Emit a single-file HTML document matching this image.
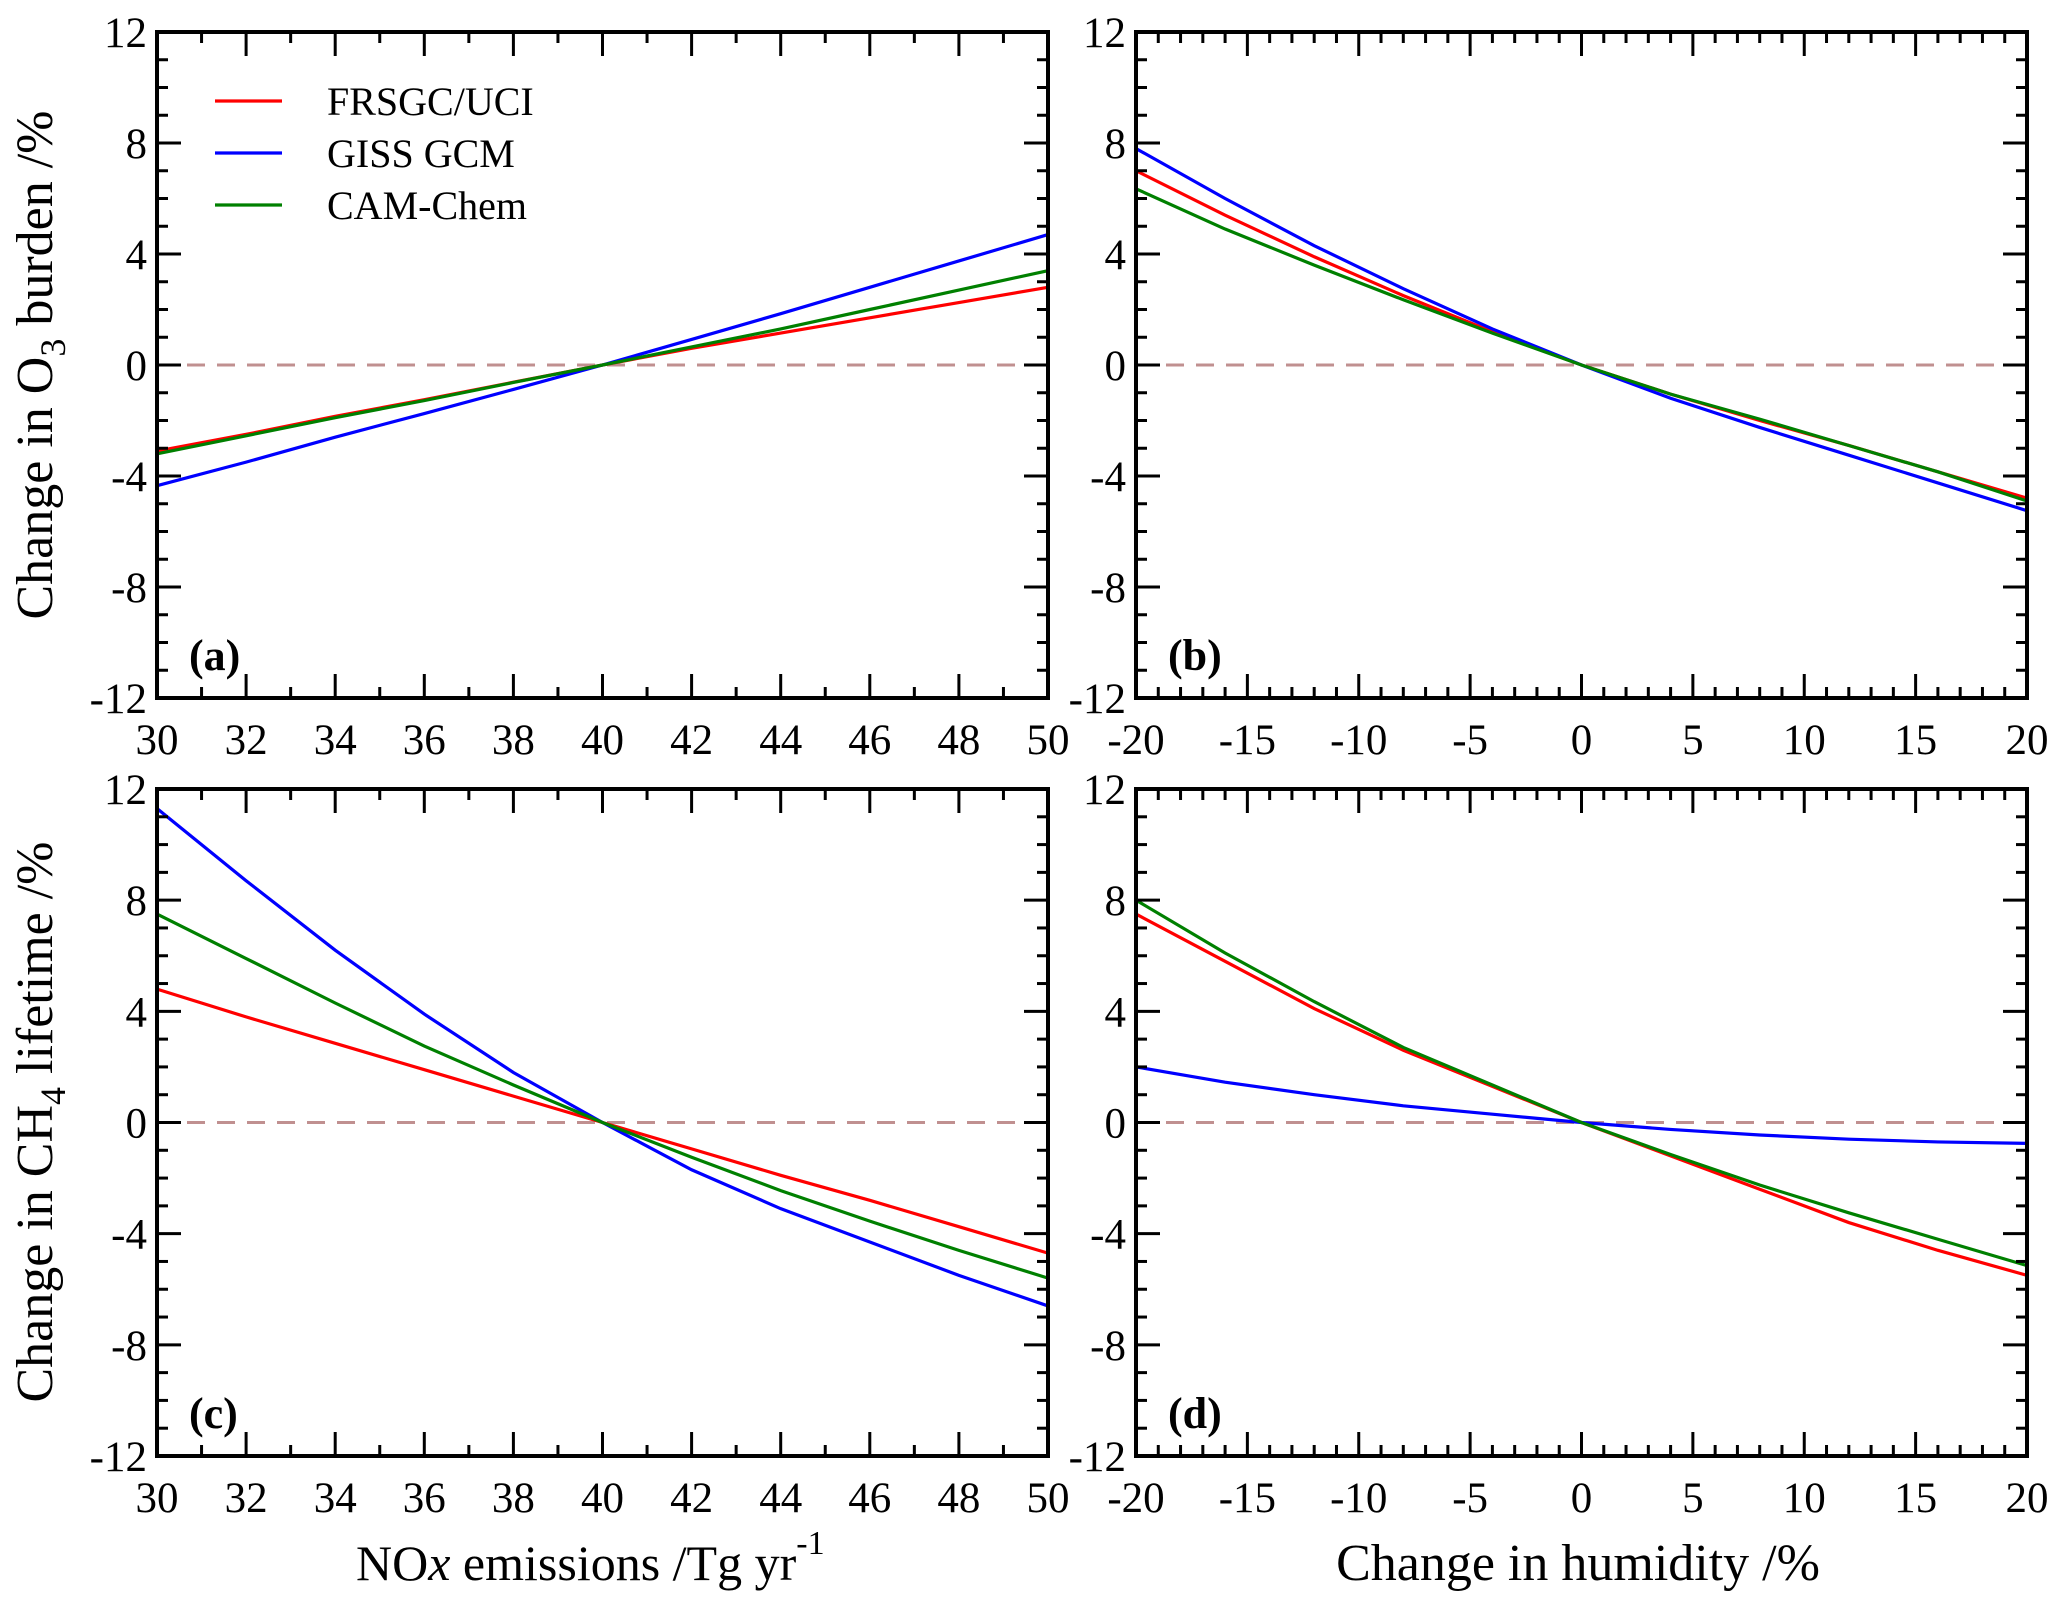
<!DOCTYPE html>
<html><head><meta charset="utf-8">
<style>
html,body{margin:0;padding:0;background:#fff;}
svg{display:block;font-family:"Liberation Serif",serif;}
</style></head>
<body>
<svg id="fig" width="2067" height="1610" viewBox="0 0 2067 1610"></svg>
<script>
// ---- data ----
const noxX = [30,32,34,36,38,40,42,44,46,48,50];
const humX = [-20,-16,-12,-8,-4,0,4,8,12,16,20];
const aFRSGC = [-3.1,-2.5,-1.85,-1.25,-0.62,0,0.6,1.15,1.7,2.25,2.8];
const aGISS  = [-4.35,-3.5,-2.6,-1.75,-0.88,0,0.92,1.85,2.8,3.75,4.7];
const aCAM   = [-3.2,-2.55,-1.9,-1.28,-0.63,0,0.65,1.3,2.0,2.7,3.4];
const bFRSGC = [7.0,5.4,3.9,2.5,1.2,0,-1.05,-2.0,-2.9,-3.85,-4.8];
const bGISS  = [7.8,6.0,4.3,2.75,1.3,0,-1.2,-2.25,-3.25,-4.25,-5.25];
const bCAM   = [6.35,4.9,3.6,2.35,1.15,0,-1.05,-1.95,-2.9,-3.85,-4.9];
const cFRSGC = [4.8,3.8,2.85,1.9,0.95,0,-0.95,-1.9,-2.8,-3.75,-4.7];
const cGISS  = [11.3,8.7,6.2,3.9,1.8,0,-1.7,-3.1,-4.3,-5.5,-6.6];
const cCAM   = [7.5,5.9,4.3,2.75,1.35,0,-1.25,-2.45,-3.55,-4.6,-5.6];
const dFRSGC = [7.5,5.8,4.1,2.6,1.3,0,-1.2,-2.4,-3.6,-4.6,-5.5];
const dGISS  = [2.0,1.45,1.0,0.6,0.3,0,-0.25,-0.45,-0.6,-0.7,-0.75];
const dCAM   = [8.0,6.1,4.35,2.7,1.35,0,-1.15,-2.25,-3.25,-4.2,-5.15];
const yTicks = [-12,-8,-4,0,4,8,12];
const noxTicks = [30,32,34,36,38,40,42,44,46,48,50];
const humTicks = [-20,-15,-10,-5,0,5,10,15,20];
const seriesNames = ["FRSGC/UCI","GISS GCM","CAM-Chem"];
const colors = ["#ff0000","#0000ff","#008000"];

const NS="http://www.w3.org/2000/svg";
const svg=document.getElementById('fig');
function mk(tag,attrs,parent){const e=document.createElementNS(NS,tag);for(const k in attrs)e.setAttribute(k,attrs[k]);(parent||svg).appendChild(e);return e;}

function panel(id,L,R,T,B,xMin,xMax,xTicks,xMinorStep,xs,series,label){
  const g=mk('g',{});
  
  
  const sx=v=>L+(v-xMin)/(xMax-xMin)*(R-L);
  const sy=v=>B-(v+12)/24*(B-T);
  const z=mk('line',{x1:L,x2:R,y1:sy(0),y2:sy(0),stroke:'#c09090','stroke-width':3,'stroke-dasharray':'18,12'},g);
  
  
  series.forEach((vals,i)=>{
    const p=mk('polyline',{points:xs.map((x,j)=>sx(x)+','+sy(vals[j])).join(' '),fill:'none',stroke:colors[i],'stroke-width':3.2},g);
    
    
  });
  const f=mk('rect',{x:L,y:T,width:R-L,height:B-T,fill:'none',stroke:'#000','stroke-width':4},g);
  
  
  for(let v=-12;v<=12;v++){
    const len=(v%4===0)?24:11;const y=sy(v);
    mk('line',{x1:L,x2:L+len,y1:y,y2:y,stroke:'#000','stroke-width':3},g);
    mk('line',{x1:R,x2:R-len,y1:y,y2:y,stroke:'#000','stroke-width':3},g);
  }
  yTicks.forEach(v=>{
    const t=mk('text',{x:L-10,y:sy(v)+15,'font-size':43,'text-anchor':'end'},g);
    t.textContent=v;
    
    
  });
  for(let v=xMin;v<=xMax+1e-9;v+=xMinorStep){
    const major=xTicks.some(t=>Math.abs(t-v)<1e-9);
    const len=major?24:11;const x=sx(v);
    mk('line',{x1:x,x2:x,y1:B,y2:B-len,stroke:'#000','stroke-width':3},g);
    mk('line',{x1:x,x2:x,y1:T,y2:T+len,stroke:'#000','stroke-width':3},g);
  }
  xTicks.forEach(v=>{
    const t=mk('text',{x:sx(v),y:B+56,'font-size':43,'text-anchor':'middle'},g);
    t.textContent=v;
    
    
  });
  const pl=mk('text',{x:L+32,y:B-28,'font-size':44,'font-weight':'bold'},g);
  pl.textContent=label;
  
  
}
panel('a',157,1048,32,698,30,50,noxTicks,1,noxX,[aFRSGC,aGISS,aCAM],'(a)');
panel('b',1136,2027,32,698,-20,20,humTicks,1,humX,[bFRSGC,bGISS,bCAM],'(b)');
panel('c',157,1048,789,1456,30,50,noxTicks,1,noxX,[cFRSGC,cGISS,cCAM],'(c)');
panel('d',1136,2027,789,1456,-20,20,humTicks,1,humX,[dFRSGC,dGISS,dCAM],'(d)');

const lg=mk('g',{});


seriesNames.forEach((n,i)=>{
  const y=101+i*52;
  const l=mk('line',{x1:215,x2:282,y1:y,y2:y,stroke:colors[i],'stroke-width':3.2},lg);
  
  
  const t=mk('text',{x:327,y:y+14,'font-size':40},lg);
  t.textContent=n;
  
  
});
</script>
<script>
(function(){
const NS="http://www.w3.org/2000/svg";const svg=document.getElementById('fig');
function add(html){const g=document.createElementNS(NS,'g');g.innerHTML=html;svg.appendChild(g);return g;}
const g=add(
 '<text transform="translate(52,365) rotate(-90)" font-size="52" text-anchor="middle">Change in O<tspan font-size="36" dy="13">3</tspan><tspan dy="-13">  burden  /%</tspan></text>'+
 '<text transform="translate(52,1122) rotate(-90)" font-size="52" text-anchor="middle">Change in CH<tspan font-size="36" dy="13">4</tspan><tspan dy="-13">  lifetime  /%</tspan></text>'+
 '<text x="356" y="1580" font-size="50">NO<tspan font-style="italic">x</tspan> emissions  /Tg yr<tspan font-size="34" dy="-26">-1</tspan></text>'+
 '<text x="1578" y="1580" font-size="52" text-anchor="middle">Change in humidity /%</text>'
);


})();
</script>
</body></html>
